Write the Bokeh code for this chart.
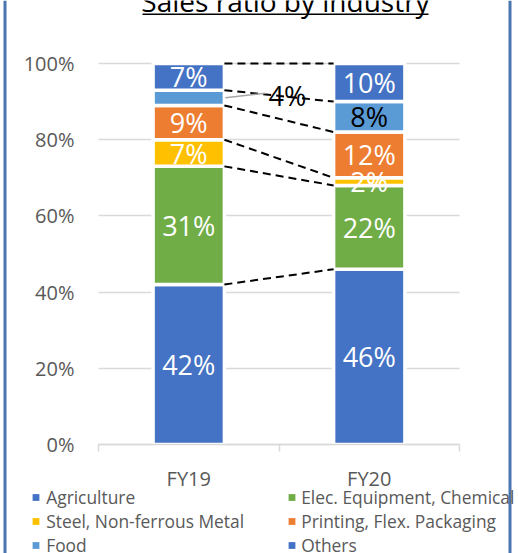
from bokeh.plotting import figure
from bokeh.models import (Range1d, FixedTicker, ColumnDataSource, Legend, LegendItem,
                          Label, BoxAnnotation, Span, LinearAxis, Grid)
from bokeh.core.properties import value
from bokeh.embed import file_html
from bokeh.resources import INLINE

# ---- data -------------------------------------------------------------
categories = ["FY19", "FY20"]
industries = ["Agriculture", "Elec. Equipment, Chemical", "Steel, Non-ferrous Metal",
              "Printing, Flex. Packaging", "Food", "Others"]
colors = ["#4472C4", "#70AD47", "#FFC000", "#ED7D31", "#5B9BD5", "#4472C4"]
fy19 = [42, 31, 7, 9, 4, 7]
fy20 = [46, 22, 2, 12, 8, 10]
y_ticks = [0, 20, 40, 60, 80, 100]
y_tick_labels = ["0%", "20%", "40%", "60%", "80%", "100%"]
title_text = "Sales ratio by industry"

# ---- layout constants (pixels) -------------------------------------------
W, H = 518, 553
PLOT_LEFT, PLOT_RIGHT = 98, 459        # horizontal extent of the category axis
PLOT_ZERO, PLOT_FULL = 444, 63          # pixel rows of 0 % and 100 %
px_per_cat = (PLOT_RIGHT - PLOT_LEFT) / len(categories)
px_per_pct = (PLOT_ZERO - PLOT_FULL) / 100
BAR_W = 0.395
FONT = "Open Sans"
GREY_TEXT = "#595959"
GRID = "#d9d9d9"


def sy(y_from_top):
    """screen y (from the bottom) for a pixel row counted from the top"""
    return H - y_from_top


# the plotting frame fills the whole canvas; axes are pinned inside it
p = figure(width=W, height=H,
           x_range=Range1d(-PLOT_LEFT / px_per_cat, (W - PLOT_LEFT) / px_per_cat),
           y_range=Range1d(-(H - PLOT_ZERO) / px_per_pct, PLOT_ZERO / px_per_pct),
           output_backend="svg", toolbar_location=None, title=None,
           x_axis_type=None, y_axis_type=None,
           min_border=0, min_border_left=0, min_border_right=0,
           min_border_top=0, min_border_bottom=0)
p.outline_line_color = None
p.background_fill_color = "white"
p.border_fill_color = "white"

# ---- axes ---------------------------------------------------------------
xaxis = LinearAxis(fixed_location=0, bounds=(0, len(categories)))
xaxis.ticker = FixedTicker(ticks=[i + 0.5 for i in range(len(categories))],
                           minor_ticks=list(range(len(categories) + 1)))
xaxis.major_label_overrides = {i + 0.5: c for i, c in enumerate(categories)}
xaxis.major_tick_line_color = None
xaxis.major_tick_out = 0
xaxis.major_tick_in = 0
xaxis.minor_tick_line_color = GRID
xaxis.minor_tick_line_width = 1.5
xaxis.minor_tick_out = 7
xaxis.minor_tick_in = 0
xaxis.axis_line_color = GRID
xaxis.axis_line_width = 1.5
xaxis.major_label_text_font = FONT
xaxis.major_label_text_font_size = "20px"
xaxis.major_label_text_color = GREY_TEXT
xaxis.major_label_standoff = 13
p.add_layout(xaxis, "below")

yaxis = LinearAxis(fixed_location=0)
yaxis.ticker = FixedTicker(ticks=y_ticks, minor_ticks=[])
yaxis.major_label_overrides = dict(zip(y_ticks, y_tick_labels))
yaxis.axis_line_color = None
yaxis.major_tick_line_color = None
yaxis.minor_tick_line_color = None
yaxis.major_tick_out = 0
yaxis.major_tick_in = 0
yaxis.major_label_standoff = 24
yaxis.major_label_text_font = FONT
yaxis.major_label_text_font_size = "20px"
yaxis.major_label_text_color = GREY_TEXT
p.add_layout(yaxis, "left")

# horizontal gridlines only across the category span
grid = Grid(dimension=1, ticker=yaxis.ticker, grid_line_color=GRID, grid_line_width=1.5)
if "cross_bounds" in grid.properties():
    grid.cross_bounds = (0, len(categories))
    p.add_layout(grid)
else:
    p.segment(x0=[0] * len(y_ticks), x1=[len(categories)] * len(y_ticks),
              y0=y_ticks, y1=y_ticks, line_color=GRID, line_width=1.5)

# ---- stacked bars ------------------------------------------------------
series = [fy19, fy20]
xs, bottoms, tops, fills = [], [], [], []
lx, ly, ltxt, lcol = [], [], [], []
cum_tops = []
for ci, vals in enumerate(series):
    xc = ci + 0.5
    base = 0
    tops_c = []
    for si, v in enumerate(vals):
        xs.append(xc)
        bottoms.append(base)
        tops.append(base + v)
        fills.append(colors[si])
        tops_c.append(base + v)
        if categories[ci] == "FY19" and industries[si] == "Food":
            # too thin for an inside label: set it beside the bar
            lx.append(xc + 0.547)
            ly.append(base + v / 2 + 0.6)
            lcol.append("black")
        else:
            lx.append(xc)
            ly.append(base + v / 2)
            lcol.append("black" if industries[si] == "Food" else "white")
        ltxt.append(f"{v}%")
        base += v
    cum_tops.append(tops_c)

bars = ColumnDataSource(dict(x=xs, bottom=bottoms, top=tops, color=fills))
p.vbar(x="x", bottom="bottom", top="top", width=BAR_W, fill_color="color",
       line_color="white", line_width=3.5, source=bars)

# series lines joining the segment tops of the two stacks
p.segment(x0=[0.5 + BAR_W / 2] * len(industries), y0=cum_tops[0],
          x1=[1.5 - BAR_W / 2] * len(industries), y1=cum_tops[1],
          line_color="black", line_width=2, line_dash="8 5")

# leader line for the FY19 Food label
food = industries.index("Food")
food_mid = cum_tops[0][food] - fy19[food] / 2
p.segment(x0=[0.5 + BAR_W / 2 + 0.005], y0=[food_mid], x1=[0.5 + 0.425], y1=[food_mid + 1.2],
          line_color="#a6a6a6", line_width=1.5)

labels = ColumnDataSource(dict(x=lx, y=ly, text=ltxt, color=lcol))
p.text(x="x", y="y", text="text", text_color="color", text_font=value(FONT),
       text_font_size="27px", text_align="center", text_baseline="middle", source=labels)

# ---- title, running off the top edge -----------------------------------
p.add_layout(Label(x=285, y=sy(0), x_units="screen", y_units="screen",
                   text=title_text, text_font=FONT, text_font_size="28px",
                   text_color="black", text_align="center", text_baseline="alphabetic"))
p.add_layout(BoxAnnotation(left=142, right=428, top=sy(13), bottom=sy(14.5),
                           left_units="screen", right_units="screen",
                           top_units="screen", bottom_units="screen",
                           fill_color="black", fill_alpha=1, line_color=None))

# ---- legend in two columns ----------------------------------------------
# key-only renderers: a single NaN point each, so nothing lands on the chart
nan = float("nan")
proxies = [p.scatter(x=[nan], y=[nan], marker="square", size=7, fill_color=c, line_color=None)
           for c in colors]


def make_legend(idx, x0, standoff):
    return Legend(items=[LegendItem(label=industries[i], renderers=[proxies[i]]) for i in idx],
                  location=(x0, sy(557)), orientation="vertical",
                  glyph_width=17, glyph_height=24, label_height=24, label_standoff=standoff,
                  spacing=0, padding=0, margin=0, border_line_color=None,
                  background_fill_alpha=0, label_text_font=FONT,
                  label_text_font_size="17.4px", label_text_color=GREY_TEXT)


p.add_layout(make_legend([0, 2, 4], 27.2, 2), "center")
p.add_layout(make_legend([1, 3, 5], 283.2, 1), "center")

# ---- side rules of the chart box -----------------------------------------
for xloc in (4.5, 509.5):
    p.add_layout(Span(location=xloc, location_units="screen", dimension="height",
                      line_color="#4a76b0", line_width=3))

open("out.html", "w").write(file_html(p, INLINE))
